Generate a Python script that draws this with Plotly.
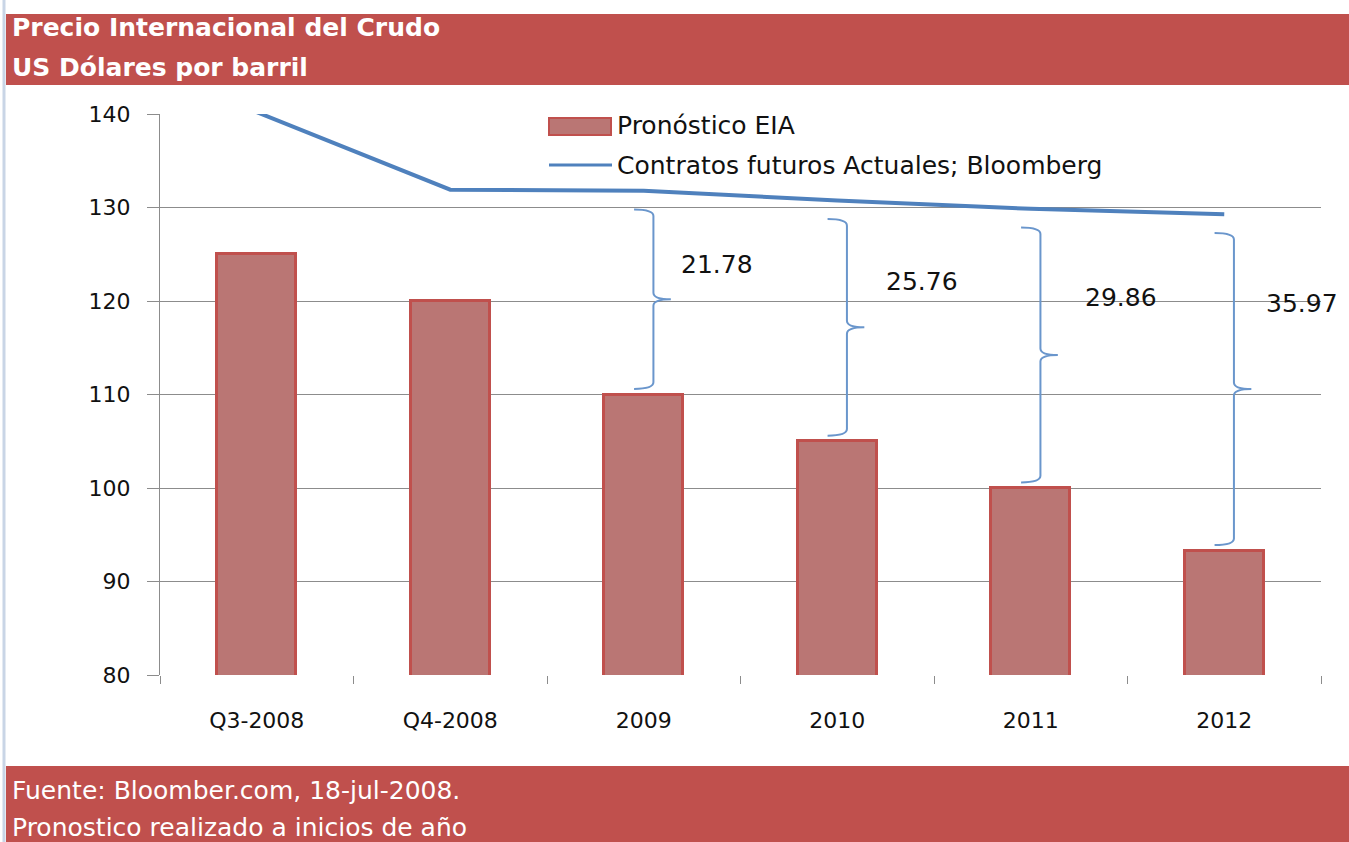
import plotly.graph_objects as go

# datos
periodos = ["Q3-2008", "Q4-2008", "2009", "2010", "2011", "2012"]
pronostico_eia = [125, 120, 110, 105, 100, 93.3]
futuros_bloomberg = [140.2, 131.9, 131.78, 130.76, 129.86, 129.27]
brecha_idx = [2, 3, 4, 5]
brecha_txt = ["21.78", "25.76", "29.86", "35.97"]
y_ticks = [80, 90, 100, 110, 120, 130, 140]

ROJO = "#C0504D"
AZUL = "#4F81BD"
FONT = "DejaVu Sans"

x = list(range(len(periodos)))

fig = go.Figure()
fig.add_trace(go.Bar(x=x, y=pronostico_eia, width=0.41, name="Pronóstico EIA",
                     marker=dict(color="#BA7674", line=dict(color=ROJO, width=3)),
                     base=0))
fig.add_trace(go.Scatter(x=x, y=futuros_bloomberg, mode="lines",
                         name="Contratos futuros Actuales; Bloomberg",
                         line=dict(color=AZUL, width=4)))
# eje auxiliar solo para las marcas entre categorias
fig.add_trace(go.Scatter(x=[-0.5, 5.5], y=[80, 80], xaxis="x2", mode="lines",
                         line=dict(width=0), hoverinfo="skip", showlegend=False))

# llaves entre la barra y la curva
lbl_dx = [0.13, 0.19, 0.22, 0.155]
lbl_y = [123.9, 122.1, 120.4, 119.7]
for k, i in enumerate(brecha_idx):
    top = futuros_bloomberg[i] - 2.0
    bot = pronostico_eia[i] + 0.6
    tip = (top + bot) / 2
    xv = i + 0.05
    hl, tr, r = 0.1, 0.09, 0.7
    path = (f"M {xv - hl},{top} Q {xv},{top} {xv},{top - r} "
            f"L {xv},{tip + r} Q {xv},{tip} {xv + tr},{tip} "
            f"Q {xv},{tip} {xv},{tip - r} "
            f"L {xv},{bot + r} Q {xv},{bot} {xv - hl},{bot}")
    fig.add_shape(type="path", path=path, xref="x", yref="y",
                  line=dict(color="#6A96CC", width=2))
    fig.add_annotation(x=xv + lbl_dx[k], y=lbl_y[k], text=brecha_txt[k], showarrow=False,
                       xanchor="left", yanchor="middle",
                       font=dict(family=FONT, size=25, color="#111111"))

# bandas de titulo y fuente
def py(px):
    return (675 - px) / 561

def pxx(px):
    return (px - 160) / 1161

fig.add_shape(type="rect", xref="paper", yref="paper", x0=pxx(6), x1=pxx(1352),
              y0=py(85), y1=py(14), fillcolor=ROJO, line=dict(width=0), layer="below")
fig.add_shape(type="rect", xref="paper", yref="paper", x0=pxx(6), x1=pxx(1352),
              y0=py(845), y1=py(766), fillcolor=ROJO, line=dict(width=0), layer="below")
fig.add_shape(type="line", xref="paper", yref="paper", x0=pxx(4), x1=pxx(4),
              y0=py(845), y1=py(0), line=dict(color="#C9D5E6", width=3))

for txt, yy, bold in [("Precio Internacional del Crudo", 28, True),
                      ("US Dólares por barril", 67, True),
                      ("Fuente: Bloomber.com, 18-jul-2008.", 790, False),
                      ("Pronostico realizado a inicios de año", 827, False)]:
    fig.add_annotation(xref="paper", yref="paper", x=pxx(10), y=py(yy),
                       text=f"<b>{txt}</b>" if bold else txt, showarrow=False,
                       xanchor="left", yanchor="middle",
                       font=dict(family=FONT, size=25, color="white"))

# leyenda dibujada a mano
fig.add_shape(type="rect", xref="paper", yref="paper", x0=pxx(549), x1=pxx(611),
              y0=py(135), y1=py(118), fillcolor="#BA7674", line=dict(color=ROJO, width=2))
fig.add_shape(type="line", xref="paper", yref="paper", x0=pxx(549), x1=pxx(612),
              y0=py(165), y1=py(165), line=dict(color=AZUL, width=3))
fig.add_annotation(xref="paper", yref="paper", x=pxx(615), y=py(126), text="Pronóstico EIA",
                   showarrow=False, xanchor="left", yanchor="middle",
                   font=dict(family=FONT, size=25, color="#111111"))
fig.add_annotation(xref="paper", yref="paper", x=pxx(615), y=py(165),
                   text="Contratos futuros Actuales; Bloomberg",
                   showarrow=False, xanchor="left", yanchor="middle",
                   font=dict(family=FONT, size=25, color="#111111"))

fig.update_layout(
    width=1349, height=842,
    margin=dict(l=160, r=28, t=114, b=167),
    paper_bgcolor="white", plot_bgcolor="white",
    showlegend=False, bargap=0,
    xaxis=dict(range=[-0.5, 5.5], tickvals=x, ticktext=periodos, ticks="",
               showgrid=False, zeroline=False, showline=False,
               ticklabelstandoff=30,
               tickfont=dict(family=FONT, size=22, color="#111111")),
    xaxis2=dict(range=[-0.5, 5.5], overlaying="x", side="bottom", anchor="y",
                tickvals=[-0.5, 0.5, 1.5, 2.5, 3.5, 4.5, 5.5], showticklabels=False,
                ticks="outside", ticklen=8, tickcolor="#8C8C8C", tickwidth=1.3,
                showgrid=False, zeroline=False, showline=False),
    yaxis=dict(range=[80, 140], tickvals=y_ticks, ticks="outside", ticklen=12,
               tickcolor="#8C8C8C", tickwidth=1.3,
               showgrid=True, gridcolor="#8C8C8C", gridwidth=1.3,
               showline=True, linecolor="#8C8C8C", linewidth=1.3,
               zeroline=False, ticklabelstandoff=12,
               tickfont=dict(family=FONT, size=22, color="#111111")),
)

fig.write_html("out.html", config={"displayModeBar": False},
               post_script="document.body.style.margin='0';")
